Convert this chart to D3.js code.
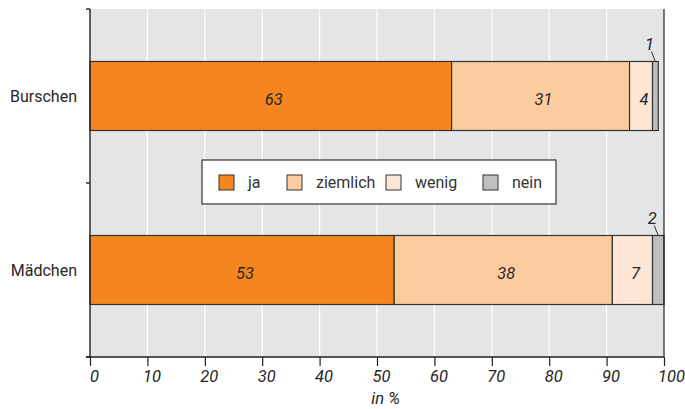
<!DOCTYPE html>
<html>
<head>
<meta charset="utf-8">
<script src="https://cdn.jsdelivr.net/npm/d3@7"></script>
<style>
  html, body { margin: 0; padding: 0; background: #fff; }
  svg { display: block; font-family: Roboto, "Liberation Sans", Arial, sans-serif; }
</style>
</head>
<body>
<svg id="chart" width="685" height="409"></svg>
<script>
// Groups and answer categories
const groups = ["Burschen", "Mädchen"];
const answers = ["ja", "ziemlich", "wenig", "nein"];
// Percent shares per group, in the order of `answers`
const burschen = [63, 31, 4, 1];
const maedchen = [53, 38, 7, 2];
const xTicks = [0, 10, 20, 30, 40, 50, 60, 70, 80, 90, 100];
const colors = ["#f5861f", "#fccca0", "#fee6d4", "#bdbfc1"];

const rows = [burschen, maedchen];

const svg = d3.select("#chart");
const margin = { left: 90, right: 21, top: 9, bottom: 52 };
const W = 685, H = 409;
const iw = W - margin.left - margin.right;
const ih = H - margin.top - margin.bottom;
const g = svg.append("g").attr("transform", `translate(${margin.left},${margin.top})`);

const x = d3.scaleLinear().domain([0, 100]).range([0, iw]);
const y = d3.scaleBand().domain(groups).range([0, ih]).paddingInner(0).paddingOuter(0);
const barH = 69;
const ink = "#262626";

// plot background
g.append("rect").attr("x", 0).attr("y", 0).attr("width", iw).attr("height", ih).attr("fill", "#e4e5e7");

// vertical white grid lines
g.selectAll("line.grid").data(xTicks.slice(1, -1)).join("line")
  .attr("x1", d => x(d)).attr("x2", d => x(d))
  .attr("y1", 0).attr("y2", ih)
  .attr("stroke", "#fff").attr("stroke-width", 1.2);

// stacked bars
const stacked = rows.map((vals, i) => {
  let acc = 0;
  return vals.map((v, j) => {
    const s = { group: groups[i], key: answers[j], x0: acc, x1: acc + v, v };
    acc += v;
    return s;
  });
});

stacked.forEach(segs => {
  const yc = y(segs[0].group) + y.bandwidth() / 2;
  const bg = g.append("g");
  bg.selectAll("rect").data(segs).join("rect")
    .attr("x", d => x(d.x0))
    .attr("y", yc - barH / 2)
    .attr("width", d => x(d.x1) - x(d.x0))
    .attr("height", barH)
    .attr("fill", (d, j) => colors[j])
    .attr("stroke", "#333")
    .attr("stroke-width", 1.2);

  // labels inside segments
  bg.selectAll("text.in").data(segs.filter(d => d.v >= 3)).join("text")
    .attr("class", "in")
    .attr("x", d => x((d.x0 + d.x1) / 2) + 3)
    .attr("y", yc + 9)
    .attr("text-anchor", "middle")
    .attr("font-size", 16.5)
    .attr("font-style", "italic")
    .attr("fill", ink)
    .text(d => d.v);

  // small segments get a label above with a leader line
  segs.filter(d => d.v < 3).forEach(d => {
    const cx = x((d.x0 + d.x1) / 2);
    const top = yc - barH / 2;
    bg.append("line")
      .attr("x1", cx - 4).attr("y1", top - 10)
      .attr("x2", cx).attr("y2", top)
      .attr("stroke", "#333").attr("stroke-width", 1);
    bg.append("text")
      .attr("x", cx - 6).attr("y", top - 12)
      .attr("text-anchor", "middle")
      .attr("font-size", 16.5)
      .attr("font-style", "italic")
      .attr("fill", ink)
      .text(d.v);
  });
});

// right frame line
g.append("line").attr("x1", iw).attr("x2", iw).attr("y1", 0).attr("y2", ih)
  .attr("stroke", "#222").attr("stroke-width", 1.2);

// left axis with ticks at band boundaries
g.append("line").attr("x1", 0).attr("x2", 0).attr("y1", 0).attr("y2", ih)
  .attr("stroke", "#222").attr("stroke-width", 1.4);
g.selectAll("line.ytick").data([0, ih / 2, ih]).join("line")
  .attr("x1", -4).attr("x2", 0).attr("y1", d => d).attr("y2", d => d)
  .attr("stroke", "#222").attr("stroke-width", 1.4);
g.selectAll("text.ylab").data(groups).join("text")
  .attr("x", -13)
  .attr("y", d => y(d) + y.bandwidth() / 2 + 6)
  .attr("text-anchor", "end")
  .attr("font-size", 16)
  .attr("fill", ink)
  .text(d => d);

// bottom axis
const xAxis = d3.axisBottom(x).tickValues(xTicks).tickSize(9).tickPadding(4).tickSizeOuter(0);
const ax = g.append("g").attr("transform", `translate(0,${ih})`).call(xAxis);
ax.select(".domain").attr("stroke", "#222").attr("stroke-width", 1.4).attr("d", `M-4,0H${iw}`);
ax.selectAll(".tick line").attr("stroke", "#222").attr("stroke-width", 1.2);
ax.selectAll(".tick text")
  .attr("font-size", 16.5)
  .attr("font-style", "italic")
  .attr("font-family", "Roboto, Liberation Sans, Arial, sans-serif")
  .attr("fill", ink)
  .attr("dx", d => d === 100 ? 7 : 4);

g.append("text")
  .attr("x", x(51.5)).attr("y", ih + 47)
  .attr("text-anchor", "middle")
  .attr("font-size", 16.5)
  .attr("font-style", "italic")
  .attr("fill", ink)
  .text("in %");

// legend
const lg = svg.append("g").attr("transform", "translate(202,160)");
lg.append("rect").attr("width", 354).attr("height", 44)
  .attr("fill", "#fff").attr("stroke", "#333").attr("stroke-width", 1.2);
const legX = [17, 85, 184, 281];
answers.forEach((a, i) => {
  lg.append("rect").attr("x", legX[i]).attr("y", 15).attr("width", 15).attr("height", 15)
    .attr("fill", colors[i]).attr("stroke", "#333").attr("stroke-width", 1);
  lg.append("text").attr("x", legX[i] + 29).attr("y", 28)
    .attr("font-size", 16).attr("fill", "#333").text(a);
});
</script>
</body>
</html>
